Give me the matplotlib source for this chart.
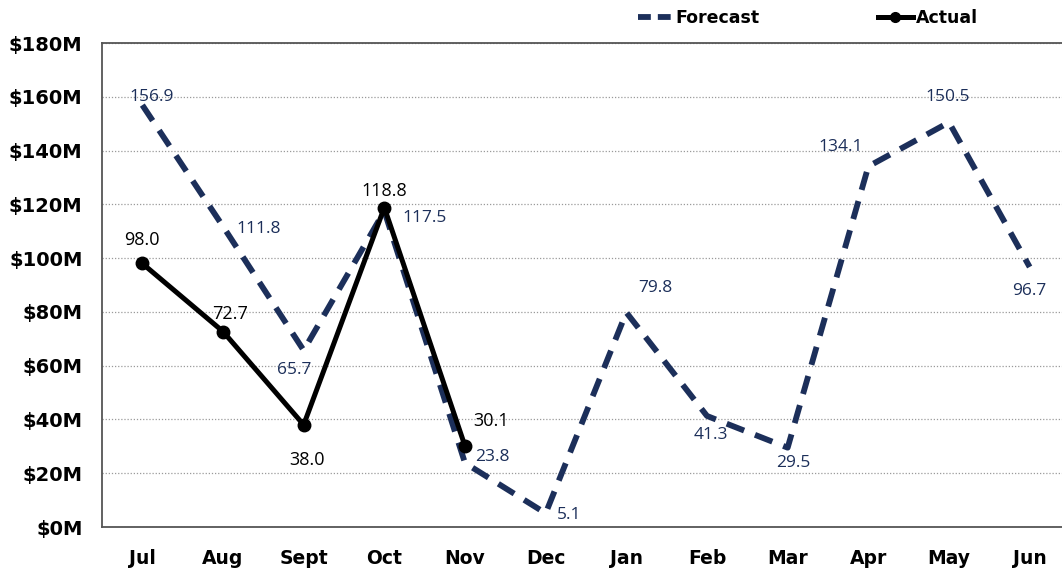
import matplotlib
matplotlib.use("Agg")
import matplotlib.pyplot as plt
from matplotlib.lines import Line2D

months = ["Jul", "Aug", "Sept", "Oct", "Nov", "Dec", "Jan", "Feb", "Mar", "Apr", "May", "Jun"]
forecast = [156.9, 111.8, 65.7, 117.5, 23.8, 5.1, 79.8, 41.3, 29.5, 134.1, 150.5, 96.7]
actual = [98.0, 72.7, 38.0, 118.8, 30.1]
y_ticks = [0, 20, 40, 60, 80, 100, 120, 140, 160, 180]

navy = "#1c2f5a"
label_font = "Open Sans"

# pixel offsets for each value label
forecast_offsets = [(9, 8), (36, -3), (-9, -20), (40, -7), (27, 6), (23, -2),
                    (29, 24), (4, -19), (6, -15), (-28, 19), (-1, 25), (0, -24)]
actual_offsets = [(0, 23), (7, 18), (3, -35), (0, 17), (26, 25)]

fig = plt.figure(figsize=(10.62, 5.71), dpi=100)
W, H = 1062, 571
ax = fig.add_axes([102 / W, (H - 527) / H, (1070 - 102) / W, (527 - 43) / H])

x_f = list(range(len(forecast)))
x_a = list(range(len(actual)))

ax.plot(x_f, forecast, color=navy, lw=4.2, dashes=(3.2, 2.0), solid_capstyle="butt",
        dash_capstyle="butt", zorder=3)
ax.plot(x_a, actual, color="black", lw=3.6, marker="o", ms=9, zorder=4)

for xi, v, (dx, dy) in zip(x_f, forecast, forecast_offsets):
    ax.annotate(f"{v:.1f}", (xi, v), xytext=(dx, dy), textcoords="offset pixels",
                ha="center", va="center", fontsize=12.5, color=navy,
                family=label_font, zorder=5)
for xi, v, (dx, dy) in zip(x_a, actual, actual_offsets):
    ax.annotate(f"{v:.1f}", (xi, v), xytext=(dx, dy), textcoords="offset pixels",
                ha="center", va="center", fontsize=13, color="black",
                family=label_font, zorder=5)

ax.set_xlim(-0.5, 11.5)
ax.set_ylim(0, 180)
ax.set_yticks(y_ticks)
ax.set_yticklabels([f"${t}M" for t in y_ticks], fontsize=14, fontweight="bold")
ax.set_xticks(x_f)
ax.set_xticklabels(months, fontsize=13.5, fontweight="bold")
ax.tick_params(axis="y", length=0, pad=14)
ax.tick_params(axis="x", length=0, pad=16)

ax.grid(axis="y", color="#9a9a9a", linestyle=(0, (1, 1.5)), linewidth=0.9)
ax.set_axisbelow(True)
for s in ["left", "bottom", "top"]:
    ax.spines[s].set_color("#555555")
    ax.spines[s].set_linewidth(1.3)
ax.spines["right"].set_visible(False)

handles = [
    Line2D([], [], color=navy, lw=4.2, dashes=(2.2, 1.2)),
    Line2D([], [], color="black", lw=3.6, marker="o", ms=7),
]
fig.legend(handles, ["Forecast", "Actual"], loc="center", bbox_to_anchor=(808 / W, 1 - 18 / H),
           ncol=2, frameon=False, handlelength=2.0, handletextpad=0.2, columnspacing=6.8,
           prop={"weight": "bold", "size": 12.5})

fig.savefig("out.png", dpi=100)
